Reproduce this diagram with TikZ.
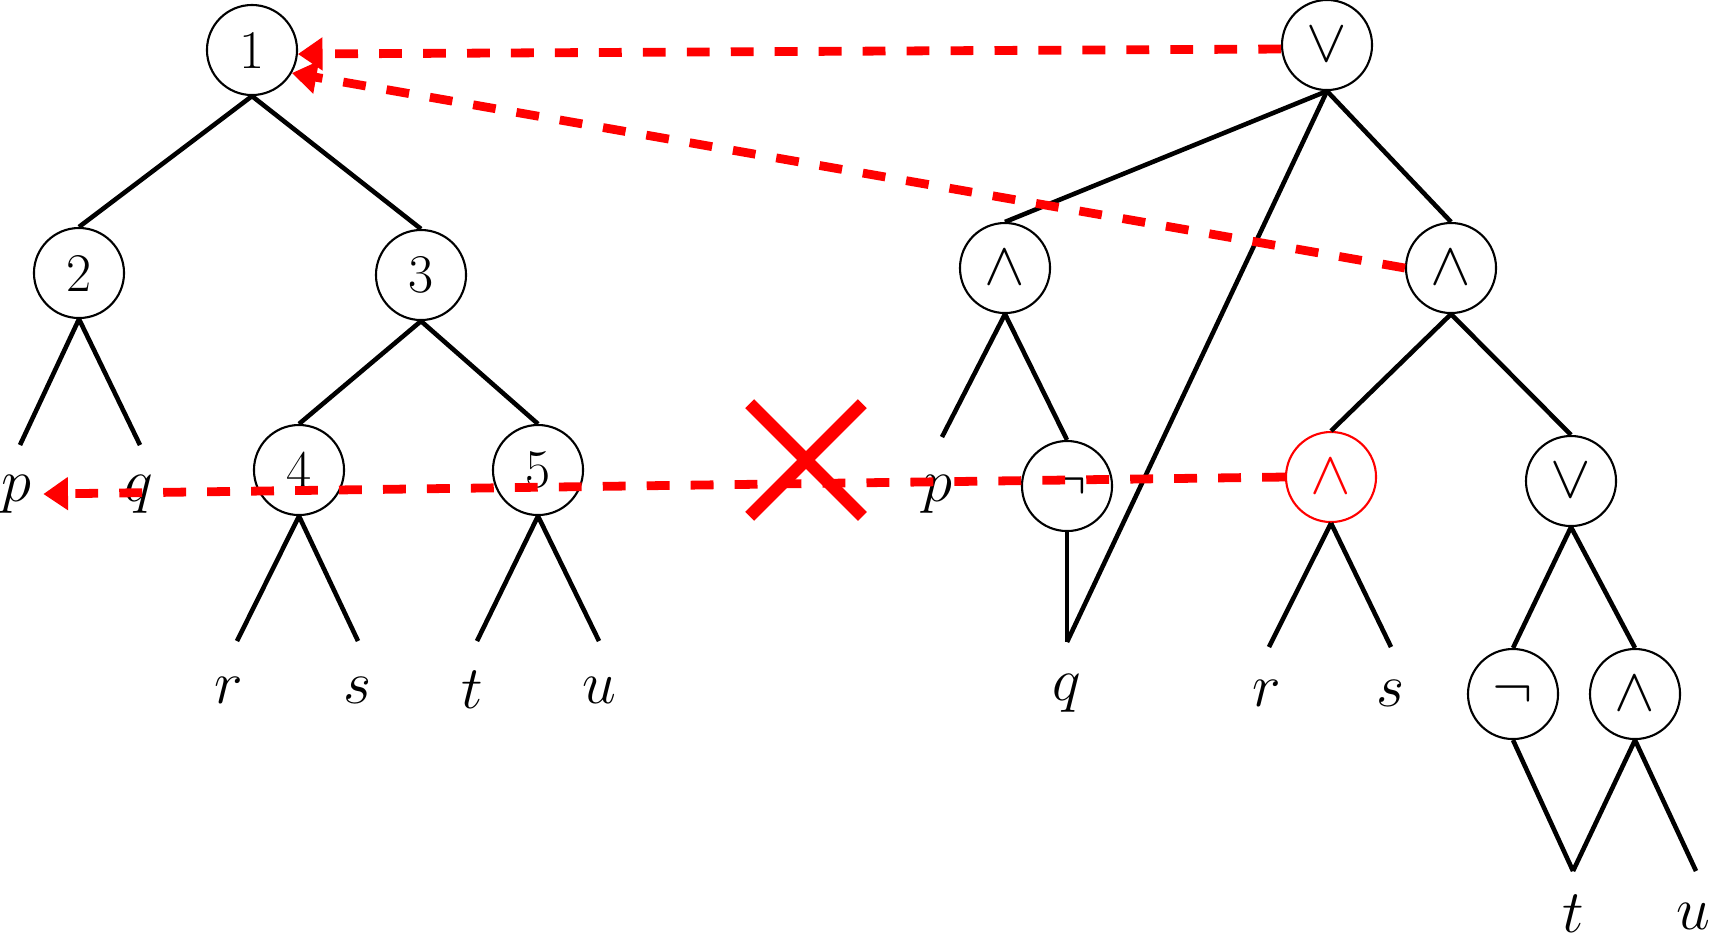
\documentclass[tikz,border=0pt]{standalone}
\usetikzlibrary{shapes.geometric,shapes.misc,arrows.meta}
\definecolor{linkred}{RGB}{255,0,0}
\newcommand{\leaffont}{\fontsize{17}{20}\selectfont}
\newcommand{\opnode}[4][black]{%
  \node[ellipse,draw=#1,text=#1,line width=0.6pt,minimum width=0.9cm,
    minimum height=0.9cm,inner sep=0pt,font=\fontsize{15.5}{18}\selectfont] (#2) at (#3) {#4};
}
\newcommand{\leafat}[4]{%
  \coordinate (#1) at (#2);
  \node[font=\leaffont] (#1txt) at (#3) {$#4$};
}

\begin{document}
\begin{tikzpicture}[x=0.01cm,y=-0.01cm,
  edge/.style={black,line width=1.3pt},
  link/.style={linkred,line width=2.5pt,dash pattern=on 6.5pt off 6pt,
    -{Triangle[length=7pt,width=9pt]}}]
  \useasboundingbox (0,0) rectangle (1713,941);
  % numbered tree
  \opnode{n1}{252,50}{1}
  \opnode{n2}{79,273}{2}
  \opnode{n3}{421,275}{3}
  \opnode{n4}{299,470}{4}
  \opnode{n5}{538,470}{5}
  \leafat{pA}{20,445}{16,494}{p}
  \leafat{qA}{140,445}{139,494}{q}
  \leafat{rA}{237,641}{229,690}{r}
  \leafat{sA}{358,641}{358,690}{s}
  \leafat{tA}{477,641}{472,690}{t}
  \leafat{uA}{599,641}{599,690}{u}
  % formula tree
  \opnode{vtop}{1327,45}{\fontsize{19}{22}\selectfont$\vee$}
  \opnode{andL}{1005,268}{\fontsize{19}{22}\selectfont$\wedge$}
  \opnode{andR}{1451,268}{\fontsize{19}{22}\selectfont$\wedge$}
  \opnode{notM}{1067,486}{\fontsize{19}{22}\selectfont$\neg$}
  \opnode[linkred]{andRed}{1331,477}{\fontsize{19}{22}\selectfont$\wedge$}
  \opnode{orR}{1571,481}{\fontsize{19}{22}\selectfont$\vee$}
  \opnode{notB}{1513,694}{\fontsize{19}{22}\selectfont$\neg$}
  \opnode{andB}{1635,694}{\fontsize{19}{22}\selectfont$\wedge$}
  \leafat{pB}{942,437}{937,494}{p}
  \leafat{qB}{1067,642}{1067,693}{q}
  \leafat{rB}{1269,647}{1267,693}{r}
  \leafat{sB}{1391,647}{1390,693}{s}
  \leafat{tB}{1573,871}{1573,914}{t}
  \leafat{uB}{1696,871}{1693,916}{u}
  \foreach \a/\b in {n1/n2,n1/n3,n3/n4,n3/n5,vtop/andL,vtop/andR,andL/notM,
    andR/andRed,andR/orR,orR/notB,orR/andB}
    \draw[edge] (\a.south) -- (\b.north);
  \foreach \a/\b in {n2/pA,n2/qA,n4/rA,n4/sA,n5/tA,n5/uA,andL/pB,notM/qB,
    vtop/qB,andRed/rB,andRed/sB,notB/tB,andB/tB,andB/uB}
    \draw[edge] (\a.south) -- (\b);
  % red links
  \draw[link] (vtop.185) -- (n1.-5);
  \draw[link] (andR.west) -- (n1.-30);
  \draw[link] (andRed.west) -- (pAtxt.east);
  \node[cross out,draw=linkred,line width=3.6pt,minimum size=1.0cm,inner sep=0pt] (cut) at (806,460) {};
\end{tikzpicture}
\end{document}
